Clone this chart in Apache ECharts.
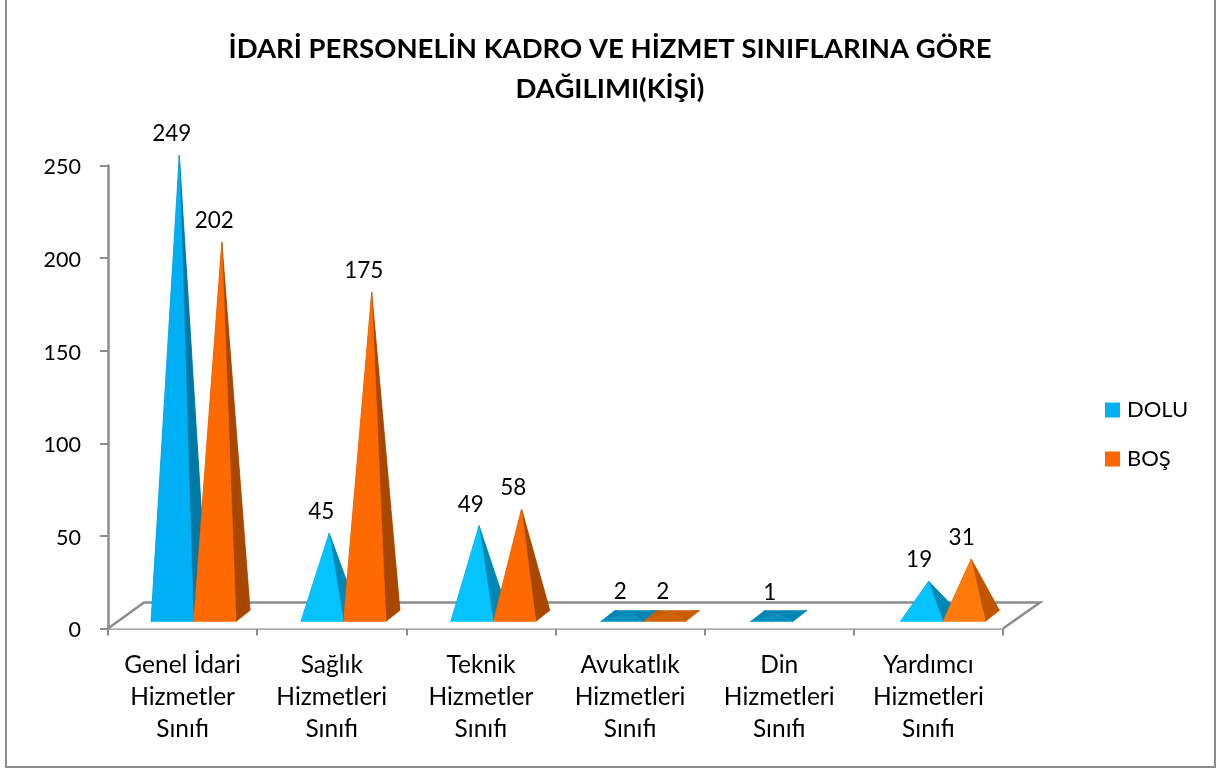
<!DOCTYPE html>
<html>
<head>
<meta charset="utf-8">
<style>
  html, body { margin: 0; padding: 0; background: #fff; overflow: hidden; }
  #frame { position: absolute; left: 5px; top: 0; width: 1207px; height: 766px; border: 2px solid #8c8c8c; border-top-width: 0; }
  #chart { position: absolute; left: 0; top: 0; width: 1216px; height: 769px; }
</style>
</head>
<body>
<div id="frame"></div>
<div id="chart"></div>
<script src="https://cdn.jsdelivr.net/npm/echarts@6/dist/echarts.min.js"></script>
<script>
const titleText = 'İDARİ PERSONELİN KADRO VE HİZMET SINIFLARINA GÖRE\nDAĞILIMI(KİŞİ)';
const categories = [
  'Genel İdari\nHizmetler\nSınıfı',
  'Sağlık\nHizmetleri\nSınıfı',
  'Teknik\nHizmetler\nSınıfı',
  'Avukatlık\nHizmetleri\nSınıfı',
  'Din\nHizmetleri\nSınıfı',
  'Yardımcı\nHizmetleri\nSınıfı'
];
const dolu = [249, 45, 49, 2, 1, 19];
const bos = [202, 175, 58, 2, null, 31];

const font = 'Lato';
const gray = '#8c8c8c';

// faces of one pyramid, tall, short and flat ones are lit differently
const blueFaces = {
  tall: { front: '#00b0f5', side: '#0078a5', back: '#0085b5' },
  short: { front: '#05c3ff', side: '#0088b5', back: '#0085b5' },
  flat: { front: '#0090c0', side: '#0085b5', back: '#0085b5' }
};
const orangeFaces = {
  tall: { front: '#ff6a00', side: '#a84700', back: '#c85a00' },
  short: { front: '#ff7a0a', side: '#c05500', back: '#c85a00' },
  flat: { front: '#d06004', side: '#c85a00', back: '#c85a00' }
};

let myChart = echarts.init(document.getElementById('chart'));

function pyramid(faces, side) {
  return function (params, api) {
    let v = api.value(1);
    if (v == null || isNaN(v)) return;
    let idx = api.value(0);
    let band = api.size([1, 0])[0];
    let w = band * 0.285;
    let zero = api.coord([idx, 0]);
    let top = api.coord([idx, v]);
    let dx = 14, dy = -11;
    // the pair sits right of the band center, and drifts a little since the 3d floor is wider than the axis
    let x0 = zero[0] + 11 + idx * 0.7 + (side < 0 ? -w : 0);
    let y0 = zero[1] - 7;
    let apex = [x0 + w / 2 + dx / 2, top[1] - 12];
    let lf = [x0, y0], rf = [x0 + w, y0], lb = [x0 + dx, y0 + dy], rb = [x0 + w + dx, y0 + dy];
    let c = v < 5 ? faces.flat : (v >= 100 || (side > 0 && v > 50) ? faces.tall : faces.short);
    let poly = (pts, fill) => ({ type: 'polygon', shape: { points: pts }, style: { fill: fill, stroke: fill, lineWidth: 0.5 } });
    return {
      type: 'group',
      children: [
        poly([lb, rb, apex], c.back),
        poly([lf, lb, apex], c.side),
        poly([rf, rb, apex], c.side),
        poly([lf, rf, apex], c.front),
        {
          type: 'text',
          style: {
            text: String(v),
            x: x0 + w / 2 - 0.5 - idx * 0.4,
            y: apex[1] - 21.5,
            align: 'center',
            verticalAlign: 'middle',
            font: '22.5px ' + font,
            fill: '#000'
          }
        }
      ]
    };
  };
}

function floor(params, api) {
  let g = params.coordSys;
  let x = g.x, y = g.y + g.height, r = g.x + g.width;
  return {
    type: 'polyline',
    shape: { points: [[x, y], [x + 36, y - 26], [r + 37, y - 26], [r, y]] },
    style: { fill: '#fff', stroke: gray, lineWidth: 2.5 }
  };
}

let option = {
  animation: false,
  backgroundColor: 'transparent',
  title: {
    text: titleText,
    left: 605,
    top: 24,
    textAlign: 'center',
    textStyle: { fontFamily: font, fontWeight: 'bold', fontSize: 27.5, lineHeight: 40, color: '#000' }
  },
  legend: {
    data: ['DOLU', 'BOŞ'],
    orient: 'vertical',
    left: 1100,
    top: 394,
    itemWidth: 15,
    itemHeight: 15,
    itemGap: 27,
    icon: 'rect',
    textStyle: { fontFamily: font, fontSize: 22, color: '#000', padding: [0, 0, 0, 2] }
  },
  grid: { left: 108, right: 213, top: 165.5, bottom: 140.5 },
  xAxis: {
    type: 'category',
    data: categories,
    axisLine: { lineStyle: { color: gray, width: 2.5 } },
    axisTick: { show: true, length: 7, lineStyle: { color: gray, width: 2 } },
    axisLabel: { interval: 0, margin: 21, color: '#000', fontFamily: font, fontSize: 24.5, lineHeight: 32 }
  },
  yAxis: {
    type: 'value',
    min: 0,
    max: 250,
    interval: 50,
    splitLine: { show: false },
    axisLine: { show: true, lineStyle: { color: gray, width: 2.5 } },
    axisTick: { show: true, length: 8, lineStyle: { color: gray, width: 2 } },
    // top align with a tiny line height puts the digits 2px under the tick, like the original
    axisLabel: { margin: 27, color: '#000', fontFamily: font, fontSize: 21.5, verticalAlign: 'top', lineHeight: 4 }
  },
  series: [
    { type: 'custom', silent: true, z: 1, renderItem: floor, data: [[0, 0]], encode: { x: 0, y: 1 } },
    {
      type: 'custom', name: 'DOLU', z: 2, itemStyle: { color: '#00b0f0' },
      renderItem: pyramid(blueFaces, -1),
      data: dolu.map((v, i) => [i, v]), encode: { x: 0, y: 1 }
    },
    {
      type: 'custom', name: 'BOŞ', z: 3, itemStyle: { color: '#ff6600' },
      renderItem: pyramid(orangeFaces, 1),
      data: bos.map((v, i) => [i, v]), encode: { x: 0, y: 1 }
    }
  ]
};
myChart.setOption(option);
</script>
</body>
</html>
